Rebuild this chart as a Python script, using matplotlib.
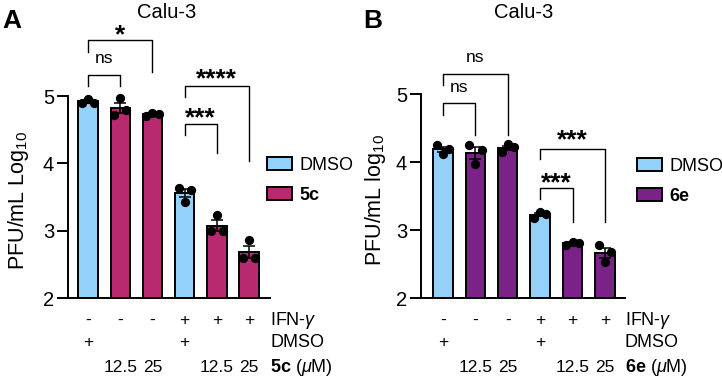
import numpy as np
import matplotlib
matplotlib.use("Agg")
import matplotlib.pyplot as plt
from matplotlib.patches import Patch

plt.rcParams['font.family'] = ['Liberation Sans', 'DejaVu Sans']
plt.rcParams['mathtext.fontset'] = 'custom'
plt.rcParams['mathtext.rm'] = 'Liberation Sans'
plt.rcParams['mathtext.it'] = 'Liberation Sans:italic'
plt.rcParams['mathtext.bf'] = 'Liberation Sans:bold'

# data (log10 PFU/mL), replicate points left / centre / right
pts_a = [[4.90, 4.96, 4.90],
         [4.72, 4.97, 4.79],
         [4.70, 4.75, 4.74],
         [3.64, 3.43, 3.61],
         [2.99, 3.24, 2.99],
         [2.59, 2.86, 2.59]]
pts_b = [[4.25, 4.12, 4.19],
         [4.25, 3.97, 4.18],
         [4.15, 4.26, 4.22],
         [3.18, 3.27, 3.23],
         [2.78, 2.83, 2.81],
         [2.78, 2.53, 2.68]]
is_dmso = [True, False, False, True, False, False]
ifn_row = ['-', '-', '-', '+', '+', '+']
dmso_row = ['+', '', '', '+', '', '']
conc_row = ['', '12.5', '25', '', '12.5', '25']

# brackets: (i, j, left leg bottom, right leg bottom, top, label, label y)
brk_a = [(0, 1, 5.15, 5.15, 5.31, 'ns', 5.56),
         (0, 2, 5.65, 5.36, 5.83, '*', 6.02),
         (3, 4, 4.42, 4.16, 4.59, '***', 4.79),
         (3, 5, 4.99, 4.04, 5.15, '****', 5.37)]
brk_b = [(0, 1, 4.69, 4.40, 4.87, 'ns', 5.09),
         (0, 2, 5.13, 4.40, 5.29, 'ns', 5.54),
         (3, 4, 3.46, 3.12, 3.62, '***', 3.81),
         (3, 5, 4.04, 3.12, 4.19, '***', 4.43)]

blue = '#94D1FA'
pink = '#B82A6F'
purple = '#7B2288'

W, H = 722, 377
fig = plt.figure(figsize=(W / 100, H / 100), dpi=100)


def panel(x0, x1, ytop, xl, pts, color, brk, cmpd, ylab, leg_xy, letter, title_x):
    ax = fig.add_axes([x0 / W, 1 - 298 / H, (x1 - x0) / W, (298 - ytop) / H])
    x = np.arange(6)
    pts = np.array(pts)
    means = pts.mean(axis=1)
    sem = pts.std(axis=1, ddof=1) / np.sqrt(3)
    cols = [blue if d else color for d in is_dmso]
    ax.bar(x, means - 2, bottom=2, width=0.6, color=cols, edgecolor='black',
           linewidth=1.4, zorder=2)
    ax.errorbar(x, means, yerr=sem, fmt='none', ecolor='black', elinewidth=1.1,
                capsize=4, capthick=1.1, zorder=3)
    for i in range(6):
        ax.scatter(x[i] + np.array([-0.19, 0, 0.19]), pts[i], s=32, color='black',
                   zorder=4, clip_on=False)
    ax.set_xlim(*xl)
    ax.set_ylim(2, 5)
    ax.set_yticks([2, 3, 4, 5])
    ax.set_xticks([])
    for s in ['top', 'right']:
        ax.spines[s].set_visible(False)
    ax.spines['left'].set_linewidth(1.4)
    ax.spines['bottom'].set_linewidth(1.4)
    ax.tick_params(axis='y', length=8, width=1.4, labelsize=14.5, pad=2)

    for i, j, yl, yr, top, lab, ly in brk:
        ax.plot([i, i, j, j], [yl, top, top, yr], color='black', lw=1.0,
                clip_on=False)
        if lab == 'ns':
            ax.text((i + j) / 2, ly, lab, ha='center', va='center', fontsize=12.5)
        else:
            # asterisk sits high in the em box, so anchor on the baseline
            ax.annotate(lab, ((i + j) / 2, ly), xytext=(0, -0.57 * 19),
                        textcoords='offset points', ha='center', va='baseline',
                        fontsize=19, fontweight='bold', annotation_clip=False)

    rows = [(ifn_row, -0.109), (dmso_row, -0.218), (conc_row, -0.342)]
    trans = ax.get_xaxis_transform()
    for vals, yy in rows:
        for i, v in enumerate(vals):
            ax.text(i, yy, v, transform=trans, ha='center', va='center', fontsize=12.5)
    lx = xl[1]
    ax.text(lx, -0.109, r'IFN-$\gamma$', transform=trans, ha='left', va='center',
            fontsize=13)
    ax.text(lx, -0.218, 'DMSO', transform=trans, ha='left', va='center', fontsize=13)
    ax.text(lx, -0.342, r'$\mathbf{%s}$ ($\mu$M)' % cmpd, transform=trans,
            ha='left', va='center', fontsize=13)

    handles = [Patch(facecolor=blue, edgecolor='black', linewidth=1.4),
               Patch(facecolor=color, edgecolor='black', linewidth=1.4)]
    leg = fig.legend(handles, ['DMSO', cmpd], loc='upper left',
                     bbox_to_anchor=(leg_xy[0] / W, 1 - leg_xy[1] / H),
                     frameon=False, fontsize=13, handlelength=1.4,
                     handleheight=0.72, handletextpad=0.4, labelspacing=0.7,
                     borderpad=0, borderaxespad=0)
    leg.get_texts()[1].set_fontweight('bold')

    fig.text(ylab[0] / W, 1 - ylab[1] / H, ylab[2], rotation=90, ha='center',
             va='center', fontsize=15.5)
    fig.text(letter[0] / W, 1 - 21 / H, letter[1], ha='left', va='center',
             fontsize=19, fontweight='bold')
    fig.text(title_x / W, 1 - 12 / H, 'Calu-3', ha='center', va='center',
             fontsize=14.5)
    return ax


panel(68, 270, 96, (-0.62, 5.65), pts_a, pink, brk_a, '5c',
      (19, 200, r'PFU/mL Log$_{10}$'), (267, 157), (2, 'A'), 167)
panel(421, 625, 94, (-0.68, 5.62), pts_b, purple, brk_b, '6e',
      (376, 200, r'PFU/mL log$_{10}$'), (637, 158), (363, 'B'), 524)

fig.savefig('out.png', dpi=100)
